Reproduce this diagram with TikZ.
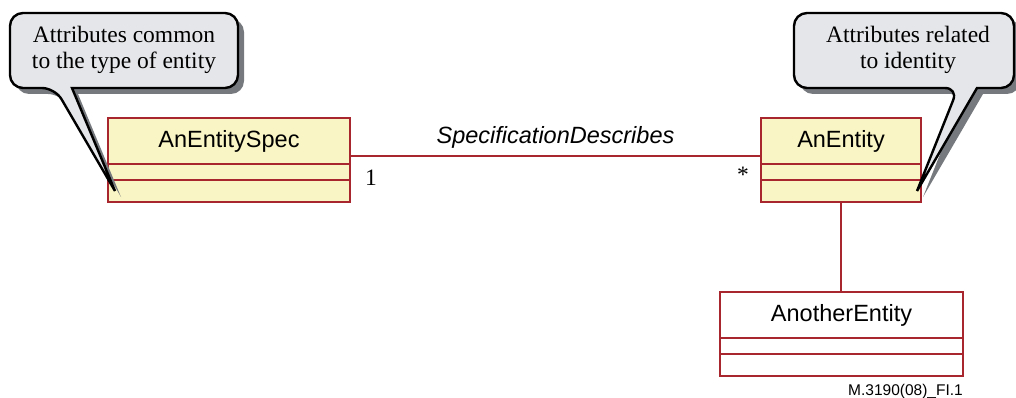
\documentclass[tikz,border=0pt]{standalone}
\usepackage{fontspec}
\setmainfont{Liberation Serif}
\setsansfont{Liberation Sans}
\usetikzlibrary{positioning,shadows}

\definecolor{umlred}{RGB}{168,38,46}
\definecolor{umlyellow}{RGB}{249,245,196}
\definecolor{notegray}{RGB}{229,230,233}
\definecolor{shadowgray}{RGB}{118,122,126}

\tikzset{
  clsname/.style={draw=umlred, line width=2.6pt, fill=umlyellow, outer sep=0pt,
    inner sep=0pt, minimum height=46pt, font=\sffamily\fontsize{23.5}{27}\selectfont},
  clsattr/.style={clsname, minimum height=16pt},
  clsop/.style={clsname, minimum height=22pt},
  plain/.style={clsname, fill=white},
  note/.style={align=center, inner sep=0pt, font=\fontsize{23.5}{26.5}\selectfont},
  callout/.style={draw=black, line width=2.4pt, fill=notegray,
    drop shadow={shadow xshift=6pt, shadow yshift=-6pt, fill=shadowgray, opacity=1}},
  assoc/.style={draw=umlred, line width=2.6pt},
  mult/.style={inner sep=0pt, font=\fontsize{23.5}{27}\selectfont}
}

\begin{document}
\begin{tikzpicture}[x=1pt, y=-1pt]
\useasboundingbox (0,0) rectangle (1016,398);

%% classes
\node[clsname, minimum width=242pt, anchor=north west] (spec) at (108,118) {AnEntitySpec};
\node[clsattr, minimum width=242pt, below=0pt of spec] (spec-a) {};
\node[clsop, minimum width=242pt, below=0pt of spec-a] (spec-o) {};

\node[clsname, minimum width=160pt, anchor=north west] (ent) at (761,118) {AnEntity};
\node[clsattr, minimum width=160pt, below=0pt of ent] (ent-a) {};
\node[clsop, minimum width=160pt, below=0pt of ent-a] (ent-o) {};

\node[plain, minimum width=243pt, anchor=north west] (another) at (720,292) {AnotherEntity};
\node[plain, minimum width=243pt, minimum height=16pt, below=0pt of another] (another-a) {};
\node[plain, minimum width=243pt, minimum height=22pt, below=0pt of another-a] (another-o) {};

%% associations
\draw[assoc] ([yshift=-15pt]spec.east) -- ([yshift=-15pt]ent.west)
  node[midway, above=6pt, inner sep=0pt, font=\sffamily\itshape\fontsize{23.5}{27}\selectfont] (describes) {SpecificationDescribes};
\node[mult] (mult-spec) at (371,178) {1};
\node[mult] (mult-ent) at (743,175) {*};

\draw[assoc] (ent-o.south) -- (ent-o.south |- another.north);

%% notes
\path[callout] (72,88) [rounded corners=13pt] -- (238,88) -- (238,13) -- (10,13) -- (10,88) -- (55,88)
  [sharp corners] -- ([xshift=7pt]spec-o.west) -- cycle;
\node[note] (note-common) at (124,50) {Attributes common\\to the type of entity};

\path[callout] (977,88) [rounded corners=13pt] -- (1014,88) -- (1014,13) -- (794,13) -- (794,88) -- (958,88)
  [sharp corners] -- ([xshift=-4pt]ent-o.east) -- cycle;
\node[note] (note-identity) at (908,50) {Attributes related\\to identity};

\node[anchor=base east, inner sep=0pt, font=\sffamily\fontsize{15.5}{18}\selectfont] (fig-id) at (963,395) {M.3190(08)\_FI.1};

\end{tikzpicture}
\end{document}
